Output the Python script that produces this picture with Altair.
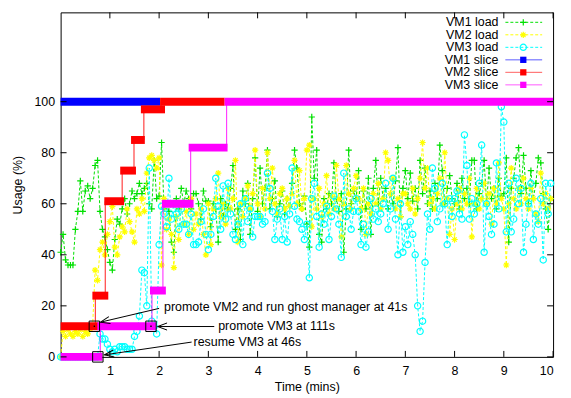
import altair as alt
import pandas as pd
import numpy as np

# ---------------- data ----------------
SAMPLE_S = 3  # seconds between load samples

vm1_load = [
    41, 48, 38, 36, 36, 36, 50, 57, 69, 57, 65, 67, 62, 66, 75, 77, 57, 50, 47, 42,
    37, 34, 46, 54, 52, 58, 62, 56, 60, 65, 62, 64, 68, 64, 66, 68, 60, 58, 77, 62,
    63, 84, 58, 60, 57, 45, 41, 62, 58, 66, 60, 65, 62, 58, 64, 64, 60, 54, 65, 61,
    61, 51, 60, 58, 45, 62, 55, 60, 58, 66, 75, 50, 58, 46, 65, 60, 68, 48, 62, 78,
    57, 74, 60, 66, 81, 58, 62, 69, 55, 60, 65, 56, 62, 59, 68, 81, 74, 60, 58, 63,
    52, 43, 94, 70, 81, 48, 45, 62, 58, 64, 60, 76, 62, 57, 64, 41, 58, 81, 60, 65,
    62, 73, 50, 65, 58, 70, 48, 66, 77, 60, 70, 62, 66, 58, 64, 60, 69, 82, 55, 66,
    73, 62, 72, 61, 66, 58, 77, 64, 74, 60, 65, 58, 68, 62, 83, 73, 60, 66, 71, 62,
    60, 68, 58, 70, 62, 66, 60, 77, 77, 58, 64, 68, 77, 60, 74, 62, 66, 58, 70, 63,
    64, 78, 45, 66, 70, 78, 82, 64, 79, 66, 60, 73, 62, 68, 78, 76, 64, 58, 50, 62,
]
vm2_load = [
    0, 10, 8, 11, 9, 8, 10, 9, 11, 8, 10, 9, 11, 12, 34, 30, 42, 45, 40, 48,
    53, 59, 43, 40, 47, 51, 49, 58, 53, 49, 45, 58, 56, 62, 57, 72, 78, 79, 77, 74,
    78, 36, 62, 50, 54, 48, 35, 55, 46, 60, 52, 57, 48, 62, 50, 56, 52, 58, 48, 40,
    60, 44, 58, 62, 72, 55, 60, 52, 66, 58, 62, 77, 45, 60, 55, 62, 67, 58, 64, 81,
    60, 55, 66, 58, 80, 62, 74, 60, 56, 64, 66, 58, 62, 59, 64, 77, 60, 73, 58, 62,
    81, 83, 51, 62, 58, 66, 55, 60, 71, 56, 63, 58, 75, 62, 47, 60, 75, 64, 58, 66,
    71, 62, 58, 66, 48, 60, 56, 64, 60, 68, 58, 62, 80, 77, 64, 70, 58, 62, 55, 64,
    64, 60, 58, 66, 56, 62, 70, 84, 66, 74, 60, 62, 58, 64, 70, 60, 80, 62, 48, 58,
    46, 60, 66, 58, 64, 60, 70, 47, 60, 66, 58, 62, 68, 60, 64, 52, 66, 60, 76, 62,
    58, 36, 60, 74, 62, 58, 66, 60, 70, 62, 58, 66, 62, 56, 53, 72, 60, 64, 58, 62,
]
vm3_load = [
    0, 0, 0, 0, 0, 0, 0, 0, 0, 0, 0, 0, 0, 0, 0, 0, 9, 7, 7, 5,
    3, 2, 3, 2, 4, 4, 4, 3, 3, 3, 8, 10, 16, 34, 33, 20, 74, 14, 12, 9,
    44, 59, 56, 51, 70, 54, 60, 56, 50, 58, 52, 52, 48, 56, 44, 44, 45, 53, 58, 48,
    42, 48, 55, 70, 59, 50, 67, 54, 68, 56, 48, 46, 52, 60, 44, 62, 53, 58, 47, 55,
    55, 55, 52, 53, 72, 66, 57, 46, 54, 58, 46, 55, 45, 56, 74, 59, 54, 53, 50, 46,
    52, 31, 62, 68, 55, 43, 56, 52, 59, 46, 55, 63, 58, 52, 39, 72, 55, 58, 50, 57,
    62, 57, 44, 52, 43, 49, 62, 54, 58, 53, 56, 60, 68, 50, 58, 70, 54, 40, 60, 41,
    51, 44, 53, 48, 40, 20, 10, 14, 37, 56, 50, 74, 66, 53, 58, 68, 60, 44, 62, 55,
    62, 65, 56, 54, 87, 75, 54, 62, 56, 60, 68, 83, 41, 60, 55, 48, 52, 76, 58, 98,
    92, 49, 68, 49, 54, 70, 60, 66, 41, 52, 60, 68, 46, 56, 52, 62, 38, 68, 56, 68,
]

# CPU slices: level held between start and end (minutes), switch = time of change
vm1_slice_level = [100]
vm1_slice_start = [0.0]
vm1_slice_end = [2.02]
vm1_slice_switch = []

vm2_slice_level = [12, 24, 61, 73, 85, 97, 100]
vm2_slice_start = [0.0, 0.645, 0.887, 1.21, 1.43, 1.63, 2.02]
vm2_slice_end = [0.766, 0.968, 1.29, 1.53, 1.71, 2.12, 3.33]
vm2_slice_switch = [0.706, 0.907, 1.25, 1.49, 1.69, 2.04]

vm3_slice_level = [0, 12, 26, 60, 82, 100]
vm3_slice_start = [0.0, 0.746, 1.815, 2.056, 2.60, 3.33]
vm3_slice_end = [0.85, 1.935, 2.137, 2.70, 3.39, 10.0]
vm3_slice_switch = [0.806, 1.855, 2.077, 2.64, 3.37]

# annotations
event_t = [0.685, 1.835, 0.756]
event_v = [12, 12, 0]
note_text = ["promote VM2 and run ghost manager at 41s", "promote VM3 at 111s", "resume VM3 at 46s"]
note_t = [2.10, 3.20, 2.70]
note_v = [19.6, 12.0, 5.8]
arrow_tail_t = [2.00, 3.12, 2.66]
arrow_tail_v = [19.0, 11.9, 5.8]
arrow_tip_t = [0.81, 1.97, 0.89]
arrow_tip_v = [13.6, 11.9, 0.8]

x_ticks = [1, 2, 3, 4, 5, 6, 7, 8, 9, 10]
y_ticks = [0, 20, 40, 60, 80, 100]

legend_labels = ["VM1 load", "VM2 load", "VM3 load", "VM1 slice", "VM2 slice", "VM3 slice"]

# ---------------- styling ----------------
W, H = 496, 347
XMAX, YMAX = 10, 135
FONT = "Liberation Sans"
FS = 12.5
GREEN, YELLOW, CYAN = "#00e000", "#ffff00", "#00ffff"
BLUE, RED, MAGENTA = "#0000ff", "#ff0000", "#ff00ff"
PLUS = "M-1,0L1,0M0,-1L0,1"
STAR = "M-1,0L1,0M0,-1L0,1M-0.7,-0.7L0.7,0.7M-0.7,0.7L0.7,-0.7"
ARROWHEAD = "M2,-0.75L0,0L2,0.75"

xscale = alt.Scale(domain=[0, XMAX], nice=False, zero=False)
yscale = alt.Scale(domain=[0, YMAX], nice=False, zero=False)
xaxis = alt.Axis(values=x_ticks, ticks=False, domain=False, grid=False, labelPadding=8,
                 labelFont=FONT, labelFontSize=FS, labelColor="black",
                 title="Time (mins)", titleFont=FONT, titleFontSize=FS, titleFontWeight="normal",
                 titleColor="black", titleY=30, titleBaseline="middle")
yaxis = alt.Axis(values=y_ticks, ticks=False, domain=False, grid=False, labelPadding=6,
                 labelFont=FONT, labelFontSize=FS, labelColor="black",
                 title="Usage (%)", titleFont=FONT, titleFontSize=FS, titleFontWeight="normal",
                 titleColor="black", titleX=-43, titleY=H / 2, titleAngle=270,
                 titleAlign="center", titleBaseline="middle")


def X(f="x"):
    return alt.X(f + ":Q", scale=xscale, axis=xaxis)


def Y(f="y"):
    return alt.Y(f + ":Q", scale=yscale, axis=yaxis)


layers = []

# loads
t = np.arange(len(vm1_load)) * SAMPLE_S / 60.0
for vals, col, shape, filled in [(vm1_load, GREEN, PLUS, False),
                                 (vm2_load, YELLOW, STAR, False),
                                 (vm3_load, CYAN, "circle", False)]:
    df = pd.DataFrame({"x": t[:len(vals)], "y": vals})
    base = alt.Chart(df)
    layers.append(base.mark_line(color=col, strokeWidth=1, strokeDash=[3, 2]).encode(x=X(), y=Y()))
    layers.append(base.mark_point(shape=shape, color=col, filled=filled, size=40, strokeWidth=1.2,
                                  opacity=1).encode(x=X(), y=Y()))

# slices
for lev, st, en, sw, col in [(vm1_slice_level, vm1_slice_start, vm1_slice_end, vm1_slice_switch, BLUE),
                             (vm2_slice_level, vm2_slice_start, vm2_slice_end, vm2_slice_switch, RED),
                             (vm3_slice_level, vm3_slice_start, vm3_slice_end, vm3_slice_switch, MAGENTA)]:
    if sw:
        conn = pd.DataFrame({"x": sw, "y": lev[:-1], "y2": lev[1:]})
        layers.append(alt.Chart(conn).mark_rule(color=col, strokeWidth=1.2, opacity=0.75).encode(
            x=X(), y=Y(), y2="y2:Q"))
    blk = pd.DataFrame({"x": st, "x2": en, "y": lev})
    layers.append(alt.Chart(blk).mark_rule(color=col, strokeWidth=8, strokeCap="butt").encode(
        x=X(), x2="x2:Q", y=Y()))

# annotation boxes
ev = pd.DataFrame({"x": event_t, "y": event_v})
layers.append(alt.Chart(ev).mark_point(shape="square", filled=False, color="black", size=110,
                                       strokeWidth=1, opacity=1).encode(x=X(), y=Y()))
layers.append(alt.Chart(ev.iloc[:2]).mark_point(shape="square", filled=True, color="black", size=2,
                                                opacity=1).encode(x=X(), y=Y()))

# arrows
px_per_t = W / XMAX
px_per_v = H / YMAX
arr = pd.DataFrame({"x": arrow_tail_t, "y": arrow_tail_v, "x2": arrow_tip_t, "y2": arrow_tip_v})
dx = (arr["x2"] - arr["x"]) * px_per_t
dy = -(arr["y2"] - arr["y"]) * px_per_v
arr["ang"] = np.mod(np.degrees(np.arctan2(-dy, -dx)), 360)
layers.append(alt.Chart(arr).mark_rule(color="black", strokeWidth=1).encode(
    x=X(), y=Y(), x2="x2:Q", y2="y2:Q"))
heads = pd.DataFrame({"x": arr["x2"], "y": arr["y2"], "ang": arr["ang"]})
layers.append(alt.Chart(heads).mark_point(shape=ARROWHEAD, filled=False, color="black", size=90,
                                          strokeWidth=1, opacity=1).encode(
    x=X(), y=Y(), angle=alt.Angle("ang:Q", scale=None)))

# notes
notes = pd.DataFrame({"x": note_t, "y": note_v, "txt": note_text})
layers.append(alt.Chart(notes).mark_text(align="left", baseline="middle", font=FONT, fontSize=FS,
                                         color="black").encode(x=X(), y=Y(), text="txt:N"))

# inward ticks (all four sides)
xt = pd.DataFrame({"x": x_ticks})
layers.append(alt.Chart(xt).mark_rule(color="black", strokeWidth=1).encode(
    x=X(), y=alt.value(H), y2=alt.value(H - 6)))
layers.append(alt.Chart(xt).mark_rule(color="black", strokeWidth=1).encode(
    x=X(), y=alt.value(0), y2=alt.value(6)))
yt = pd.DataFrame({"y": y_ticks})
layers.append(alt.Chart(yt).mark_rule(color="black", strokeWidth=1).encode(
    y=Y(), x=alt.value(0), x2=alt.value(6)))
layers.append(alt.Chart(yt).mark_rule(color="black", strokeWidth=1).encode(
    y=Y(), x=alt.value(W), x2=alt.value(W - 6)))

# legend (top right, label left of sample)
leg = pd.DataFrame({"label": legend_labels, "i": range(len(legend_labels))})
leg["py"] = 10 + 12.6 * leg["i"]
leg["tx"] = W - 55
leg["lx1"] = W - 48
leg["lx2"] = W - 11
leg["mx"] = W - 30
leg_cols = [GREEN, YELLOW, CYAN, BLUE, RED, MAGENTA]
leg_shapes = [PLUS, STAR, "circle", "square", "square", "square"]
layers.append(alt.Chart(leg).mark_text(align="right", baseline="middle", font=FONT, fontSize=FS,
                                       color="black").encode(
    x=alt.X("tx:Q", scale=None), y=alt.Y("py:Q", scale=None), text="label:N"))
for k in range(len(legend_labels)):
    row = leg.iloc[[k]]
    dash = [3, 2] if k < 3 else [1, 0]
    layers.append(alt.Chart(row).mark_rule(color=leg_cols[k], strokeWidth=1, strokeDash=dash,
                                           opacity=1 if k < 3 else 0.7).encode(
        x=alt.X("lx1:Q", scale=None), x2="lx2:Q", y=alt.Y("py:Q", scale=None)))
    layers.append(alt.Chart(row).mark_point(shape=leg_shapes[k], color=leg_cols[k],
                                            filled=(k >= 3), size=40,
                                            strokeWidth=1.2, opacity=1).encode(
        x=alt.X("mx:Q", scale=None), y=alt.Y("py:Q", scale=None)))

chart = alt.layer(*layers).properties(
    width=W, height=H,
    autosize=alt.AutoSizeParams(type="none"),
    padding={"left": 53, "top": 3, "right": 10, "bottom": 40},
    background="white",
).configure_view(stroke="black", strokeWidth=1)

chart.save("out.html", embed_options={"renderer": "svg", "actions": False})
